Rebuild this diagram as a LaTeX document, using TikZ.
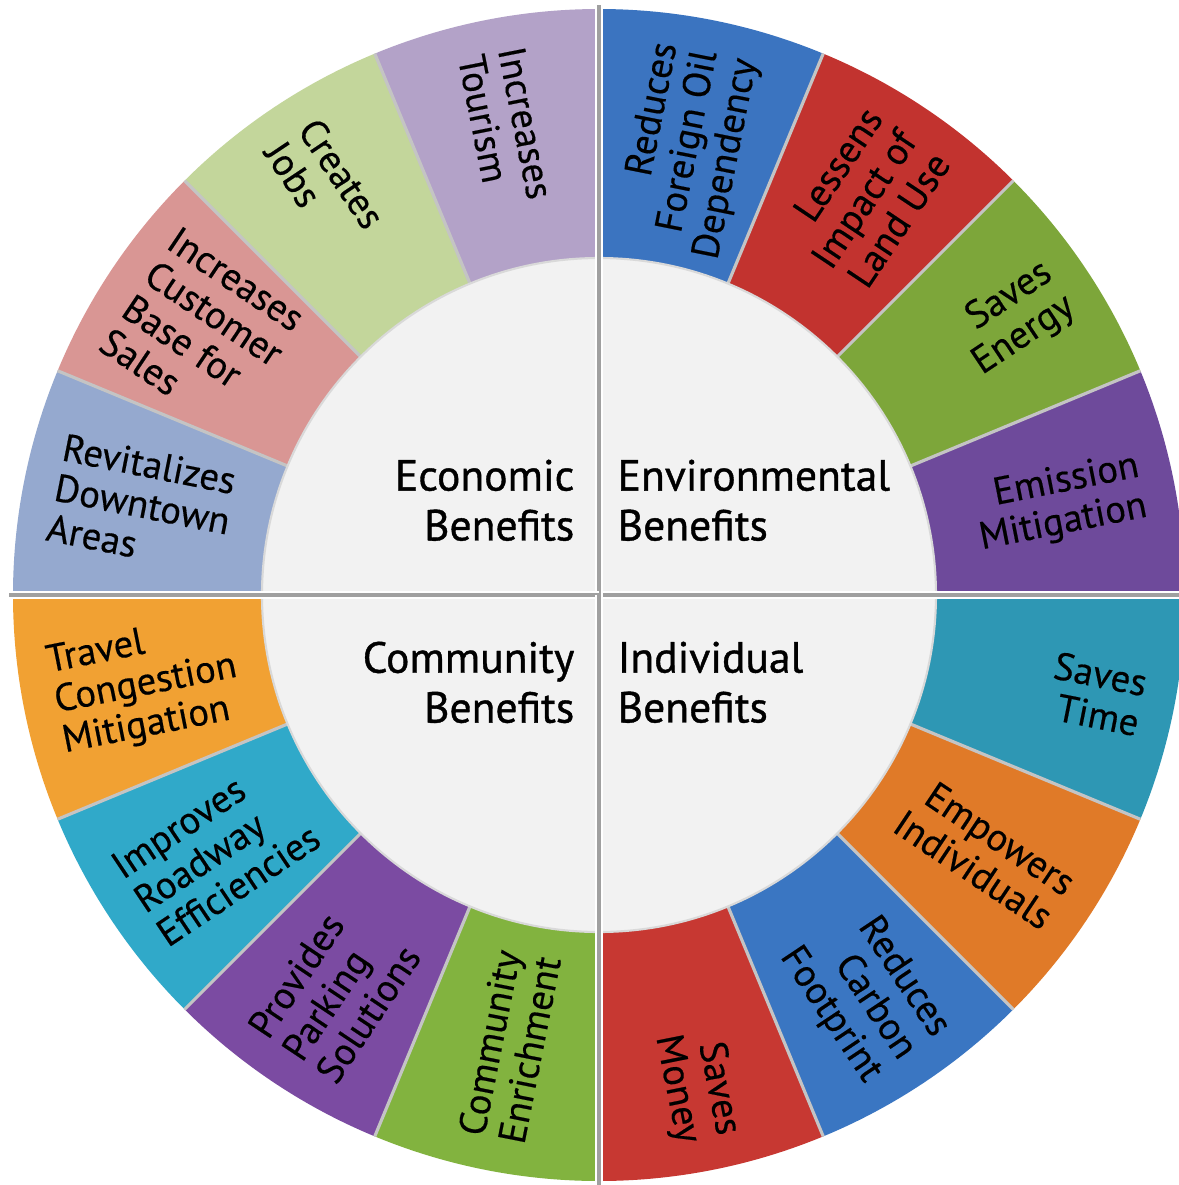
\documentclass[tikz,border=0pt]{standalone}
\usepackage{fontspec}
\setmainfont{PT Sans}
\newfontfamily\ringfont{PT Sans}[FakeBold=0.4]
\newfontfamily\hubfont{PT Sans}[FakeBold=0.9]

\definecolor{tourism}{HTML}{B3A2C8}
\definecolor{jobs}{HTML}{C3D69B}
\definecolor{customer}{HTML}{D99694}
\definecolor{downtown}{HTML}{95A9CF}
\definecolor{foreignoil}{HTML}{3B74C0}
\definecolor{landuse}{HTML}{C2332F}
\definecolor{energy}{HTML}{7DA63A}
\definecolor{emission}{HTML}{6E4A9B}
\definecolor{savetime}{HTML}{2E97B4}
\definecolor{empower}{HTML}{E07A28}
\definecolor{carbon}{HTML}{3A76C2}
\definecolor{money}{HTML}{C73832}
\definecolor{congestion}{HTML}{F1A133}
\definecolor{roadway}{HTML}{30A9C9}
\definecolor{parking}{HTML}{7B4BA2}
\definecolor{enrich}{HTML}{82B33F}
\definecolor{hubfill}{HTML}{F2F2F2}
\definecolor{sepline}{HTML}{C4C4C4}
\definecolor{quadline}{HTML}{A0A0A0}

\begin{document}
\begin{tikzpicture}[
  sep/.style = {draw=sepline, line width=0.9pt},
  quad/.style = {draw=quadline, line width=0.9pt},
  ringlabel/.style = {inner sep=0pt, font=\ringfont\fontsize{11}{11.6}\selectfont},
  hublabel/.style = {inner sep=0pt, font=\hubfont\fontsize{12.4}{14.2}\selectfont}]

\clip (-5.99,-5.90) rectangle (5.80,5.95);
\fill[white] (-5.99,-5.90) rectangle (5.80,5.95);

% outer ring, one sector per benefit
\foreach \ang/\col in {0/emission, 22.5/energy, 45/landuse, 67.5/foreignoil,
                       90/tourism, 112.5/jobs, 135/customer, 157.5/downtown,
                       180/congestion, 202.5/roadway, 225/parking, 247.5/enrich,
                       270/money, 292.5/carbon, 315/empower, 337.5/savetime}
{
  \pgfmathsetmacro\angb{\ang+22.5}
  \fill[\col] (\ang:3.3) -- (\ang:5.86)
    arc[start angle=\ang, end angle=\angb, radius=5.86] -- (\angb:3.3) -- cycle;
}
\foreach \ang in {22.5,45,67.5,112.5,135,157.5,202.5,225,247.5,292.5,315,337.5}
  \draw[sep] (\ang:3.3) -- (\ang:5.86);

% hub
\fill[hubfill] (0,0) circle (3.37);
\draw[draw=black!15, line width=0.6pt] (0,0) circle (3.37);

% quadrant lines
\foreach \ang in {0,90,180,270}
{
  \draw[white, line width=2.4pt] (0,0) -- (\ang:5.9);
  \draw[quad] (0,0) -- (\ang:5.9);
}

% left half labels
\foreach \ang/\lbl/\nm in {101.25/{Increases\\Tourism}/tourism,
                           123.75/{Creates\\Jobs}/jobs,
                           146.25/{Increases\\Customer\\Base for\\Sales}/customer,
                           168.75/{Revitalizes\\Downtown\\Areas}/downtown,
                           191.25/{Travel\\Congestion\\Mitigation}/congestion,
                           213.75/{Improves\\Roadway\\Efficiencies}/roadway,
                           236.25/{Provides\\Parking\\Solutions}/parking,
                           258.75/{Community\\Enrichment}/enrich}
  \node[ringlabel, rotate=\ang-180, anchor=west, align=left] (lab\nm) at (\ang:5.55) {\lbl};

% right half labels
\foreach \ang/\lbl/\nm in {78.75/{Reduces\\Foreign Oil\\Dependency}/foreignoil,
                           56.25/{Lessens\\Impact of\\Land Use}/landuse,
                           33.75/{Saves\\Energy}/energy,
                           11.25/{Emission\\Mitigation}/emission,
                           -11.25/{Saves\\Time}/savetime,
                           -33.75/{Empowers\\Individuals}/empower,
                           -56.25/{Reduces\\Carbon\\Footprint}/carbon,
                           -78.75/{Saves\\Money}/money}
  \node[ringlabel, rotate=\ang, anchor=east, align=right] (lab\nm) at (\ang:5.55) {\lbl};

% hub labels
\node[hublabel, anchor=north east, align=right] (econ) at (-0.24,1.36) {Economic\\Benefits};
\node[hublabel, anchor=north west, align=left] (envi) at (0.18,1.36) {Environmental\\Benefits};
\node[hublabel, anchor=north east, align=right] (comm) at (-0.24,-0.46) {Community\\Benefits};
\node[hublabel, anchor=north west, align=left] (indi) at (0.18,-0.46) {Individual\\Benefits};
\end{tikzpicture}
\end{document}
